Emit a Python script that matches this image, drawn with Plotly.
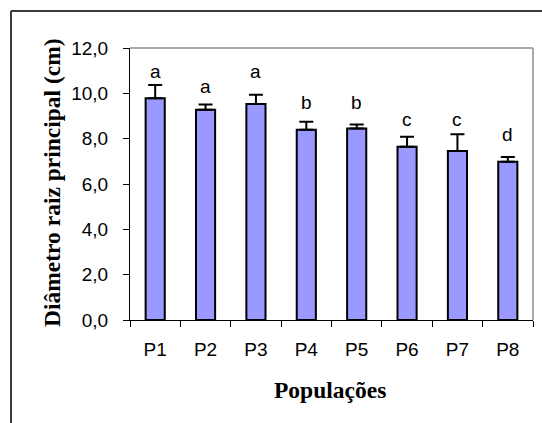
import plotly.graph_objects as go

# Mean main-root diameter (cm) per population, with standard error
populations = ["P1", "P2", "P3", "P4", "P5", "P6", "P7", "P8"]
diameter = [9.78, 9.28, 9.53, 8.39, 8.45, 7.64, 7.46, 6.98]
std_error = [0.59, 0.23, 0.41, 0.36, 0.18, 0.44, 0.74, 0.21]
# Significance groups and the height at which each letter is shown
groups = ["a", "a", "a", "b", "b", "c", "c", "d"]
letter_heights = [10.97, 10.28, 10.97, 9.58, 9.58, 8.84, 8.84, 8.17]
y_ticks = [0, 2, 4, 6, 8, 10, 12]

W, H = 542, 423
L, R, T, B = 130, 9, 48, 103
plot_w = W - L - R
plot_h = H - T - B


def px_x(px):
    return (px - L) / plot_w


def px_y(py):
    return (H - B - py) / plot_h


sans = "Liberation Sans, Arial, sans-serif"
serif = "Liberation Serif, Times New Roman, serif"

fig = go.Figure()
fig.add_trace(go.Bar(
    x=populations,
    y=diameter,
    marker=dict(color="#9999FF", line=dict(color="#000000", width=2)),
    error_y=dict(type="data", symmetric=False, array=std_error,
                 arrayminus=[0] * len(std_error),
                 color="#000000", thickness=2, width=7),
    hoverinfo="skip",
))

for p, g, h in zip(populations, groups, letter_heights):
    fig.add_annotation(x=p, y=h, text=g, showarrow=False,
                       xref="x", yref="y", yanchor="middle",
                       font=dict(family=sans, size=19, color="#000000"))

# Axis titles
fig.add_annotation(x=px_x(330), y=px_y(390), xref="paper", yref="paper",
                   text="<b>Populações</b>", showarrow=False,
                   xanchor="center", yanchor="middle",
                   font=dict(family=serif, size=23.5, color="#000000"))
fig.add_annotation(x=px_x(52), y=px_y(183), xref="paper", yref="paper",
                   text="<b>Diâmetro raiz principal (cm)</b>", showarrow=False,
                   textangle=-90, xanchor="center", yanchor="middle",
                   font=dict(family=serif, size=23.5, color="#000000"))

# Outer chart frame (left and top edges)
fx = px_x(11)
fy = px_y(11)
shapes = [
    dict(type="line", xref="paper", yref="paper", x0=fx, x1=fx, y0=fy, y1=-1,
         line=dict(color="#3a3a3a", width=2)),
    dict(type="line", xref="paper", yref="paper", x0=fx, x1=2, y0=fy, y1=fy,
         line=dict(color="#3a3a3a", width=2)),
    # Plot-area border (top and right)
    dict(type="line", xref="paper", yref="paper", x0=0, x1=1, y0=1, y1=1,
         line=dict(color="#8c8c8c", width=1.5)),
    dict(type="line", xref="paper", yref="paper", x0=1, x1=1, y0=0, y1=1,
         line=dict(color="#8c8c8c", width=1.5)),
]

fig.update_layout(
    width=W, height=H,
    margin=dict(l=L, r=R, t=T, b=B),
    paper_bgcolor="white", plot_bgcolor="white",
    separators=",.",
    showlegend=False,
    bargap=0.62,
    shapes=shapes,
    xaxis=dict(
        showgrid=False, showline=True, linecolor="#000000", linewidth=1,
        ticks="outside", ticklen=6, tickcolor="#000000", tickson="boundaries",
        ticklabelstandoff=12,
        tickfont=dict(family=sans, size=19, color="#000000"),
    ),
    yaxis=dict(
        range=[0, 12], tickvals=y_ticks, tickformat=".1f",
        showgrid=False, zeroline=False, showline=True, linecolor="#000000",
        linewidth=1, ticks="outside", ticklen=6, tickcolor="#000000",
        ticklabelstandoff=11,
        tickfont=dict(family=sans, size=19, color="#000000"),
    ),
)

fig.write_html("out.html")
